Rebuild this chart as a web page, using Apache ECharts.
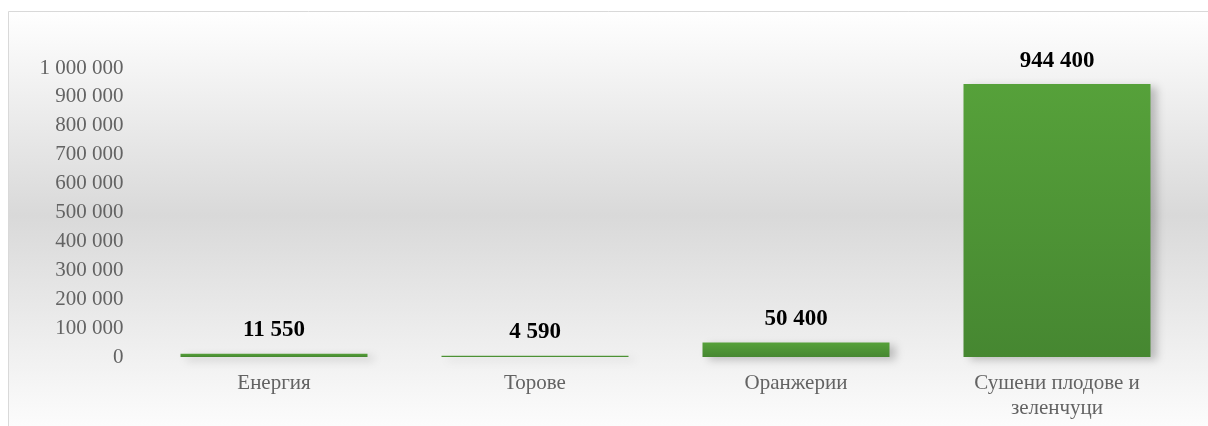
<!DOCTYPE html>
<html><head><meta charset="utf-8">
<script src="https://cdn.jsdelivr.net/npm/echarts@6/dist/echarts.min.js"></script>
<style>html,body{margin:0;padding:0;background:#fff}#c{width:1208px;height:426px}</style>
</head><body><div id="c"></div>
<script>
var categories = ['Енергия', 'Торове', 'Оранжерии', 'Сушени плодове и\nзеленчуци'];
var values = [11550, 4590, 50400, 944400];
var yMin = 0, yMax = 1000000, yInterval = 100000;

function fmt(v){ return String(v).replace(/\B(?=(\d{3})+(?!\d))/g, ' '); }
var serif = '"Liberation Serif", "DejaVu Serif", serif';

var chart = echarts.init(document.getElementById('c'));
chart.setOption({
  animation: false,
  graphic: [{
    type: 'rect', z: -10, silent: true,
    shape: { x: 8.5, y: 11.5, width: 1400, height: 600 },
    style: {
      stroke: '#d9d9d9', lineWidth: 1,
      fill: new echarts.graphic.LinearGradient(0, 0, 0, 1, [
        { offset: 0, color: '#ffffff' },
        { offset: 0.34, color: '#d9d9d9' },
        { offset: 0.72, color: '#ffffff' },
        { offset: 1, color: '#ffffff' }
      ])
    }
  }],
  grid: { left: 143.5, right: 20.5, top: 68, bottom: 69 },
  xAxis: {
    type: 'category', data: categories,
    axisLine: { show: false }, axisTick: { show: false },
    axisLabel: { color: '#636363', fontFamily: serif, fontSize: 21, margin: 14, lineHeight: 25 }
  },
  yAxis: {
    type: 'value', min: yMin, max: yMax, interval: yInterval,
    splitLine: { show: false }, axisLine: { show: false }, axisTick: { show: false },
    axisLabel: { color: '#636363', fontFamily: serif, fontSize: 21, margin: 20, formatter: fmt }
  },
  series: [{
    type: 'bar', data: values, barWidth: 187,
    itemStyle: {
      color: new echarts.graphic.LinearGradient(0, 0, 0, 1, [
        { offset: 0, color: '#56a13a' },
        { offset: 1, color: '#468731' }
      ]),
      shadowColor: 'rgba(0,0,0,0.22)', shadowBlur: 8, shadowOffsetX: 6, shadowOffsetY: 3
    },
    label: {
      show: true, position: 'top', distance: 12,
      color: '#000', fontFamily: serif, fontWeight: 'bold', fontSize: 23,
      formatter: function(p){ return fmt(p.value); }
    }
  }]
});
</script></body></html>
